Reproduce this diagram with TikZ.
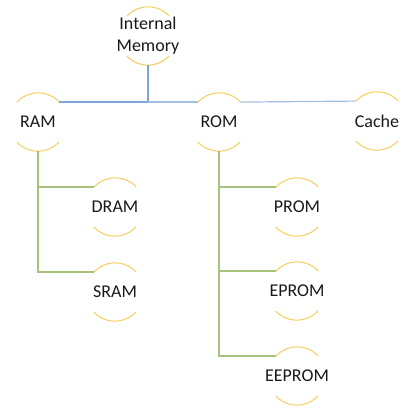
\documentclass[tikz,border=0pt]{standalone}
\usepackage{fontspec}
\setmainfont{Carlito}
\definecolor{arcy}{HTML}{F2CE5A}
\definecolor{lineb}{HTML}{7EA6D8}
\definecolor{lineb2}{HTML}{A3C0E3}
\definecolor{lineg}{HTML}{A6C27C}
\begin{document}
\begin{tikzpicture}[x=1pt,y=-1pt,
  blob/.style={circle,minimum size=58pt,inner sep=0pt,draw=none},
  lbl/.style={font=\fontsize{18}{22}\selectfont,align=center,inner sep=0pt,text=black!90},
  arcline/.style={draw=arcy,line width=1pt},
  blueline/.style={draw=lineb,line width=1.2pt},
  blueline2/.style={draw=lineb2,line width=1.2pt},
  greenline/.style={draw=lineg,line width=1.2pt}]
\useasboundingbox (0,0) rectangle (411,411);
% circles
\node[blob] (im) at (148,36) {};
\node[blob] (ram) at (38,122) {};
\node[blob] (rom) at (219,122) {};
\node[blob] (cache) at (377,121) {};
\node[blob] (dram) at (115,207) {};
\node[blob] (sram) at (115,292) {};
\node[blob] (prom) at (297,207) {};
\node[blob] (eprom) at (297,291) {};
\node[blob] (eeprom) at (297,376) {};
% arcs
\foreach \n in {im,ram,rom,cache,dram,sram,prom,eprom,eeprom}{
  \draw[arcline] (\n.43) arc[start angle=43,end angle=137,radius=29pt];
  \draw[arcline] (\n.223) arc[start angle=223,end angle=317,radius=29pt];
}
% labels
\node[lbl] (imt) at (im) {Internal\\Memory};
\node[lbl] (ramt) at (ram) {RAM};
\node[lbl] (romt) at (rom) {ROM};
\node[lbl] (cachet) at (cache) {Cache};
\node[lbl] (dramt) at (dram) {DRAM};
\node[lbl] (sramt) at (sram) {SRAM};
\node[lbl] (promt) at (prom) {PROM};
\node[lbl] (epromt) at (eprom) {EPROM};
\node[lbl] (eepromt) at (eeprom) {EEPROM};
% blue connectors
\coordinate (j) at (im.south |- ram.43);
\draw[blueline] (im.south) -- (j);
\draw[blueline] (j) -- (ram.43);
\draw[blueline2] (j) -- (rom.137);
\draw[blueline2] (rom.43) -- (cache.137);
% green connectors
\draw[greenline] (ram.south) |- (dram.137);
\draw[greenline] (ram.south) |- (sram.137);
\draw[greenline] (rom.south) |- (prom.137);
\draw[greenline] (rom.south) |- (eprom.137);
\draw[greenline] (rom.south) |- (eeprom.137);
\end{tikzpicture}
\end{document}
